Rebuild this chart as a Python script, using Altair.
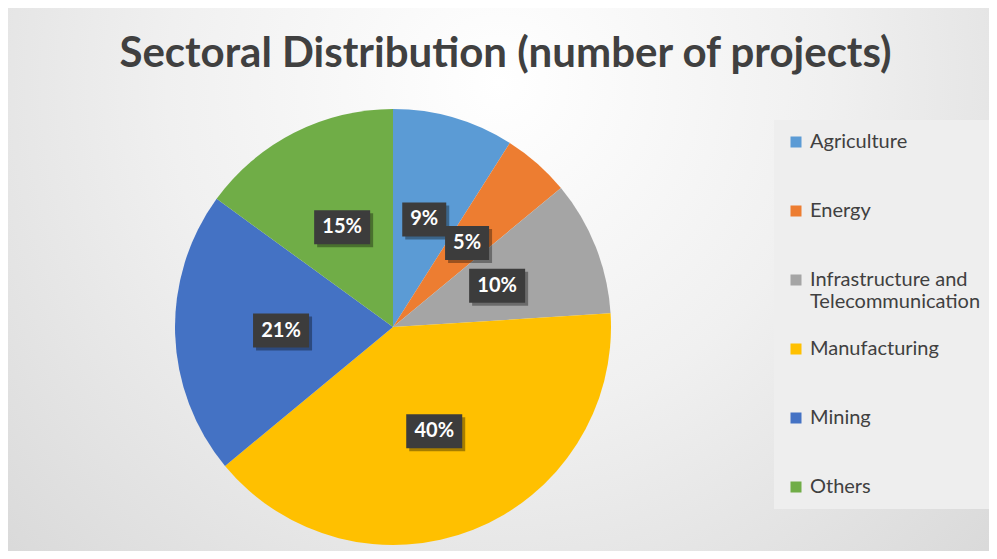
import altair as alt
import pandas as pd

sectors = ["Agriculture", "Energy", "Infrastructure and Telecommunication",
           "Manufacturing", "Mining", "Others"]
shares = [9, 5, 10, 40, 21, 15]
pct_labels = ["9%", "5%", "10%", "40%", "21%", "15%"]
colors = ["#5B9BD5", "#ED7D31", "#A5A5A5", "#FFC000", "#4472C4", "#70AD47"]

df = pd.DataFrame({"sector": sectors, "share": shares, "label": pct_labels,
                   "order": list(range(len(sectors)))})

W, H = 981, 543
CX, CY, R = 385, 319, 218
LR = 112

BOX2 = "M-0.88,-0.68L0.88,-0.68L0.88,0.68L-0.88,0.68Z"
BOX3 = "M-1.12,-0.68L1.12,-0.68L1.12,0.68L-1.12,0.68Z"

base = alt.Chart(df)

bg = base.mark_rect(
    color={"gradient": "radial",
           "x1": 0.5, "y1": 0.3, "r1": 0.0,
           "x2": 0.5, "y2": 0.3, "r2": 0.75,
           "stops": [{"offset": 0, "color": "#ffffff"},
                     {"offset": 0.45, "color": "#f0f0f0"},
                     {"offset": 1, "color": "#d6d6d6"}]}
).encode(x=alt.value(0), x2=alt.value(W), y=alt.value(0), y2=alt.value(H))

pie = base.mark_arc(outerRadius=R, x=CX, y=CY, stroke=None).encode(
    theta=alt.Theta("share:Q", stack=True),
    order=alt.Order("order:Q"),
    color=alt.Color(
        "sector:N",
        scale=alt.Scale(domain=sectors, range=colors),
        legend=alt.Legend(
            title=None, orient="none", legendX=766, legendY=112,
            symbolType="square", symbolSize=121, symbolStrokeWidth=0,
            labelFont="Lato", labelFontSize=20, labelColor="#404040",
            labelOffset=4, labelLimit=400, rowPadding=27, gridAlign="all",
            labelBaseline="middle",
            labelExpr="datum.label == 'Infrastructure and Telecommunication' ? ['Infrastructure and', 'Telecommunication'] : datum.label",
            fillColor="#eeeeee", padding=12, cornerRadius=0,
        ),
    ),
)

pos = base.transform_window(
    cum="sum(share)", sort=[alt.SortField("order")]
).transform_joinaggregate(
    total="sum(share)"
).transform_calculate(
    mid="(datum.cum - datum.share / 2) / datum.total * 2 * PI",
).transform_calculate(
    px=f"{CX} + {LR} * sin(datum.mid)",
    py=f"{CY} - {LR} * cos(datum.mid)",
    sx=f"{CX} + {LR} * sin(datum.mid) + 3",
    sy=f"{CY} - {LR} * cos(datum.mid) + 3",
    shp=f"length(datum.label) < 3 ? '{BOX2}' : '{BOX3}'",
)

shadow = pos.mark_point(filled=True, opacity=0.35, color="#000000", size=2500, strokeWidth=0).encode(
    x=alt.X("sx:Q", scale=None, axis=None),
    y=alt.Y("sy:Q", scale=None, axis=None),
    shape=alt.Shape("shp:N", scale=None),
)

boxes = pos.mark_point(filled=True, opacity=1, color="#3c3c3c", size=2500, strokeWidth=0).encode(
    x=alt.X("px:Q", scale=None, axis=None),
    y=alt.Y("py:Q", scale=None, axis=None),
    shape=alt.Shape("shp:N", scale=None),
)

texts = pos.mark_text(font="Lato", fontSize=20, fontWeight="bold", color="#ffffff",
                      align="center", baseline="middle").encode(
    x=alt.X("px:Q", scale=None, axis=None),
    y=alt.Y("py:Q", scale=None, axis=None),
    text="label:N",
)

chart = alt.layer(bg, pie, shadow, boxes, texts).properties(
    width=W, height=H,
    autosize=alt.AutoSizeParams(type="none"),
    padding=0,
    title=alt.Title(
        "Sectoral Distribution (number of projects)",
        font="Lato", fontSize=42, fontWeight="bold",
        color="#404040", anchor="middle", frame="group", orient="top",
        baseline="alphabetic", offset=-101, dx=7,
    ),
).configure_view(stroke=None).configure(background="#ffffff")

chart.save("out.html", embed_options={"renderer": "svg", "actions": False})
